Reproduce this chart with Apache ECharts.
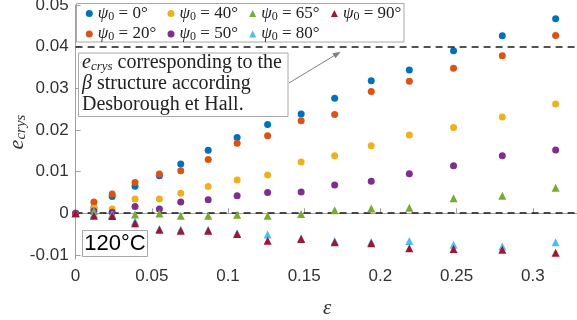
<!DOCTYPE html>
<html><head><meta charset="utf-8">
<script src="https://cdn.jsdelivr.net/npm/echarts@6/dist/echarts.min.js"></script>
<style>html,body{margin:0;padding:0;background:#fff}#c{width:577px;height:320px}</style>
</head><body><div id="c"></div>
<script>
// ---- data ----
const strain = [0, 0.012, 0.024, 0.039, 0.055, 0.069, 0.087, 0.106, 0.126, 0.148, 0.170, 0.194, 0.219, 0.248, 0.280, 0.315];
const psiAngles = [0, 20, 40, 50, 65, 80, 90];
const ecrys_psi0  = [0, 0.0013, 0.0040, 0.0065, 0.0090, 0.0118, 0.0151, 0.0182, 0.0213, 0.0238, 0.0276, 0.0318, 0.0344, 0.0390, 0.0426, 0.0467];
const ecrys_psi20 = [0, 0.0027, 0.0046, 0.0074, 0.0094, 0.0102, 0.0129, 0.0168, 0.0186, 0.0222, 0.0237, 0.0292, 0.0317, 0.0348, 0.0378, 0.0427];
const ecrys_psi40 = [0, 0.0012, 0.0010, 0.0034, 0.0034, 0.0048, 0.0064, 0.0080, 0.0092, 0.0123, 0.0138, 0.0162, 0.0188, 0.0206, 0.0231, 0.0262];
const ecrys_psi50 = [0, 0.0005, 0.0002, 0.0016, 0.0010, 0.0027, 0.0032, 0.0042, 0.0050, 0.0051, 0.0068, 0.0077, 0.0095, 0.0114, 0.0138, 0.0152];
const ecrys_psi65 = [0, 0.0005, -0.0003, -0.0003, -0.0001, -0.0006, -0.0006, -0.0004, -0.0006, -0.0002, 0.0007, 0.0011, 0.0013, 0.0036, 0.0042, 0.0061];
const ecrys_psi80 = [0, -0.0002, -0.0004, -0.0020, -0.0038, -0.0039, -0.0040, -0.0048, -0.0051, -0.0060, -0.0067, -0.0069, -0.0067, -0.0076, -0.0080, -0.0070];
const ecrys_psi90 = [0, -0.0006, -0.0007, -0.0024, -0.0040, -0.0042, -0.0042, -0.0050, -0.0066, -0.0062, -0.0070, -0.0072, -0.0084, -0.0086, -0.0088, -0.0095];
const xTicks = [0, 0.05, 0.1, 0.15, 0.2, 0.25, 0.3];
const yTicks = [-0.01, 0, 0.01, 0.02, 0.03, 0.04, 0.05];
const refLevels = [0, 0.04];
const arrowTarget = [0.174, 0.0388];
const tempLabel = '120°C';
const legendColumns = [[0, 20], [40, 50], [65, 80], [90]];

const allValues = [ecrys_psi0, ecrys_psi20, ecrys_psi40, ecrys_psi50, ecrys_psi65, ecrys_psi80, ecrys_psi90];
const colors = ['#0072BD', '#D95319', '#EDB120', '#7E2F8E', '#77AC30', '#4DBEEE', '#A2142F'];
const shapes = ['circle', 'circle', 'circle', 'circle', 'triangle', 'triangle', 'triangle'];
const names = psiAngles.map(a => 'ψ0 = ' + a + '°');

const serif = '"Liberation Serif", "DejaVu Serif", serif';
const sans = '"Liberation Sans", Arial, sans-serif';

const series = psiAngles.map((a, k) => ({
  name: names[k],
  type: 'scatter',
  symbol: shapes[k],
  symbolSize: shapes[k] === 'circle' ? 7 : 8,
  itemStyle: { color: colors[k], opacity: 1 },
  data: strain.map((x, i) => [x, allValues[k][i]]),
  z: 2 + k
}));
series[series.length - 1].markLine = {
  silent: true, symbol: ['none', 'none'], label: { show: false },
  lineStyle: { color: '#1a1a1a', width: 1.5, type: [7, 5] },
  data: refLevels.map(v => ({ yAxis: v }))
};

const legendText = {
  rich: {
    i: { fontFamily: serif, fontStyle: 'italic', fontSize: 17, color: '#222' },
    s: { fontFamily: serif, fontSize: 12, color: '#222', padding: [6, 0, 0, 0] },
    n: { fontFamily: serif, fontSize: 17, color: '#222' }
  }
};
const legends = legendColumns.map((col, c) => ({
  orient: 'vertical', left: 85.8 + c * 81.7, top: 5, padding: 0,
  itemWidth: 7, itemHeight: 7, itemGap: 3,
  data: col.map(a => {
    const k = psiAngles.indexOf(a);
    return { name: names[k], icon: shapes[k], itemStyle: { color: colors[k] } };
  }),
  formatter: n => '{i|ψ}{s|0}{n| = ' + n.split('= ')[1] + '}',
  textStyle: legendText
}));

const chart = echarts.init(document.getElementById('c'), null, { renderer: 'canvas' });
const option = {
  animation: false,
  backgroundColor: '#fff',
  grid: { left: 75.6, right: -1.5, top: 5, bottom: 61, containLabel: false, outerBoundsMode: 'none' },
  xAxis: {
    type: 'value', min: 0, max: 0.33,
    name: 'ε', nameLocation: 'middle', nameGap: 39,
    nameTextStyle: { fontFamily: serif, fontStyle: 'italic', fontSize: 21, color: '#333' },
    axisLine: { show: true, lineStyle: { color: '#a0a0a0', width: 1 } },
    axisTick: { show: true, inside: true, length: 5, lineStyle: { color: '#a0a0a0' }, customValues: xTicks },
    axisLabel: { fontFamily: sans, fontSize: 17, color: '#333', margin: 9, customValues: xTicks,
      formatter: v => String(+v.toFixed(2)) },
    splitLine: { show: false }
  },
  yAxis: {
    type: 'value', min: -0.011, max: 0.05,
    name: '{e|e}{s|crys}', nameLocation: 'middle', nameGap: 47, nameRotate: 90, nameMoveOverlap: false,
    nameTextStyle: { rich: {
      e: { fontFamily: serif, fontStyle: 'italic', fontSize: 22, color: '#333' },
      s: { fontFamily: serif, fontStyle: 'italic', fontSize: 15, color: '#333', padding: [8, 0, 0, 0] }
    } },
    axisLine: { show: true, lineStyle: { color: '#a0a0a0', width: 1 } },
    axisTick: { show: true, inside: true, length: 5, lineStyle: { color: '#a0a0a0' }, customValues: yTicks },
    axisLabel: { fontFamily: sans, fontSize: 17, color: '#333', margin: 7, customValues: yTicks,
      formatter: v => String(+v.toFixed(3)) },
    splitLine: { show: false }
  },
  legend: legends,
  series: series
};
chart.setOption(option);

const tip = chart.convertToPixel({ gridIndex: 0 }, arrowTarget);
const tail = [289, 83];
const ang = Math.atan2(tip[1] - tail[1], tip[0] - tail[0]);
const ah = 8, aw = 3;
const base = [tip[0] - ah * Math.cos(ang), tip[1] - ah * Math.sin(ang)];
const p1 = [base[0] + aw * Math.sin(ang), base[1] - aw * Math.cos(ang)];
const p2 = [base[0] - aw * Math.sin(ang), base[1] + aw * Math.cos(ang)];

chart.setOption({
  graphic: [
    { type: 'rect', z: 0, shape: { x: 76.5, y: 3.5, width: 327.5, height: 38.5 },
      style: { fill: '#fff', stroke: '#a8a8a8', lineWidth: 1 } },
    { type: 'rect', z: 50, shape: { x: 78.5, y: 53, width: 209.5, height: 63.5 },
      style: { fill: '#fff', stroke: '#a8a8a8', lineWidth: 1 } },
    { type: 'text', z: 51, x: 82, y: 52.5,
      style: {
        text: '{ei|e}{sub|crys}{n| corresponding to the}\n{bi|β}{n| structure according}\n{n|Desborough et Hall.}',
        rich: {
          ei: { fontFamily: serif, fontStyle: 'italic', fontSize: 20, lineHeight: 20.8, fill: '#222' },
          sub: { fontFamily: serif, fontStyle: 'italic', fontSize: 13, lineHeight: 20.8, fill: '#222', padding: [7, 0, 0, 0] },
          bi: { fontFamily: serif, fontStyle: 'italic', fontSize: 20, lineHeight: 20.8, fill: '#222' },
          n: { fontFamily: serif, fontSize: 20, lineHeight: 20.8, fill: '#222' }
        },
        verticalAlign: 'top', align: 'left'
      } },
    { type: 'line', z: 49, shape: { x1: tail[0], y1: tail[1], x2: base[0], y2: base[1] },
      style: { stroke: '#808080', lineWidth: 1 } },
    { type: 'polygon', z: 49, shape: { points: [tip, p1, p2] }, style: { fill: '#808080' } },
    { type: 'rect', z: 50, shape: { x: 82.5, y: 230.5, width: 65, height: 26 },
      style: { fill: '#fff', stroke: '#a8a8a8', lineWidth: 1 } },
    { type: 'text', z: 51, x: 115, y: 244,
      style: { text: tempLabel, fontFamily: sans, fontSize: 22, fill: '#000', align: 'center', verticalAlign: 'middle' } }
  ]
});
</script>
</body></html>
